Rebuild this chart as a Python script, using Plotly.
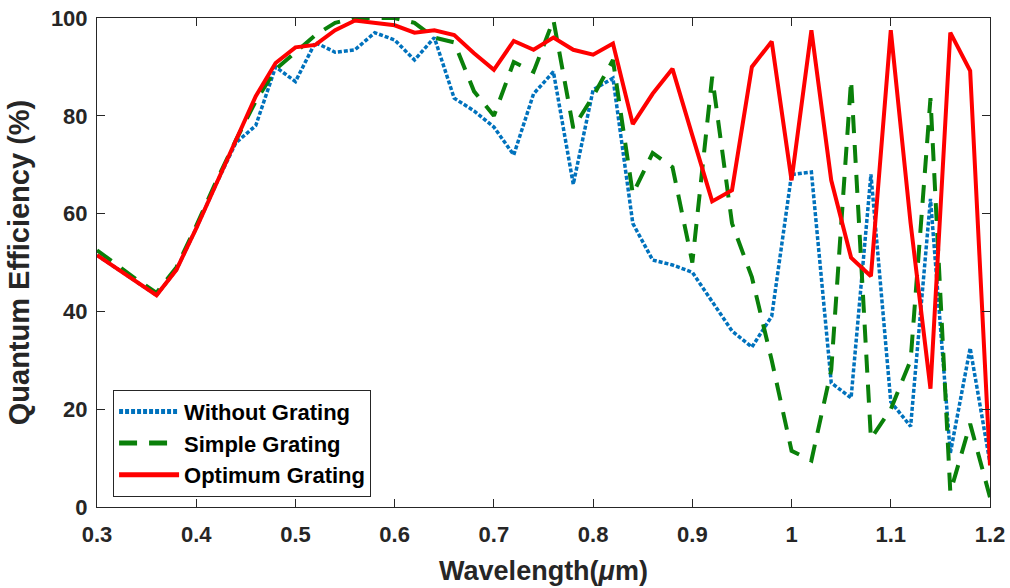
import plotly.graph_objects as go

wavelength = [0.30, 0.32, 0.34, 0.36, 0.38, 0.40, 0.42, 0.44, 0.46, 0.48,
              0.50, 0.52, 0.54, 0.56, 0.58, 0.60, 0.62, 0.64, 0.66, 0.68,
              0.70, 0.72, 0.74, 0.76, 0.78, 0.80, 0.82, 0.84, 0.86, 0.88,
              0.90, 0.92, 0.94, 0.96, 0.98, 1.00, 1.02, 1.04, 1.06, 1.08,
              1.10, 1.12, 1.14, 1.16, 1.18, 1.20]

without_grating = [51.5, 48.8, 46, 43.3, 48.5, 57, 66, 74.5, 78, 90,
                   87, 95, 93, 93.5, 97, 95.5, 91.4, 96, 83.6, 81,
                   77.7, 72, 84.5, 89, 66, 85.3, 87.7, 58, 50.5, 49.5,
                   48, 42, 36, 32.7, 39, 68, 68.5, 25.4, 22.3, 68,
                   21.5, 16.5, 63, 11, 32.5, 9]

simple_grating = [52.5, 49.5, 46.5, 43.8, 49, 57.5, 66.5, 75, 83, 89.5,
                  93, 96.5, 99, 100, 100, 100, 99, 96, 95, 85,
                  80, 91, 89, 99.6, 77.5, 84, 91.4, 64, 72.4, 69.5,
                  50, 88, 58, 47, 30, 11.5, 9.5, 28, 87.3, 14,
                  20, 30, 83.6, 3, 17, 2]

optimum_grating = [51.5, 48.8, 46, 43.3, 48.5, 57, 66, 75, 84, 90.8,
                   94, 94.5, 97.5, 99.5, 99, 98.5, 97, 97.5, 96.5, 92.8,
                   89.4, 95.3, 93.5, 96, 93.5, 92.5, 94.8, 78.3, 84.5, 89.6,
                   76, 62.5, 64.8, 90, 95.2, 66.8, 97.5, 66.8, 51, 47.2,
                   97.5, 58, 24.2, 97, 89.2, 8.5]

x_ticks = [0.3, 0.4, 0.5, 0.6, 0.7, 0.8, 0.9, 1.0, 1.1, 1.2]
x_tick_labels = ["0.3", "0.4", "0.5", "0.6", "0.7", "0.8", "0.9", "1", "1.1", "1.2"]
y_ticks = [0, 20, 40, 60, 80, 100]

FONT = "Liberation Sans, Arial, Helvetica, sans-serif"
AX = "#262626"

fig = go.Figure()
fig.add_trace(go.Scatter(x=wavelength, y=without_grating, mode="lines",
                         name="<b>Without Grating</b>",
                         line=dict(color="#0072BD", width=3.5, dash="4px,2px")))
fig.add_trace(go.Scatter(x=wavelength, y=simple_grating, mode="lines",
                         name="<b>Simple Grating</b>",
                         line=dict(color="#0A800A", width=4, dash="18px,12px")))
fig.add_trace(go.Scatter(x=wavelength, y=optimum_grating, mode="lines",
                         name="<b>Optimum Grating</b>",
                         line=dict(color="#FF0000", width=4)))

axis_common = dict(showgrid=False, zeroline=False, showline=True, linecolor=AX,
                   linewidth=1, mirror="ticks", ticks="inside", ticklen=8,
                   tickcolor=AX, tickwidth=1,
                   tickfont=dict(family=FONT, size=22, color=AX))

fig.update_xaxes(range=[0.3, 1.2], tickvals=x_ticks, ticktext=["<b>%s</b>" % t for t in x_tick_labels],
                 ticklabelstandoff=8,
                 title=dict(text="<b>Wavelength(<i>μ</i>m)</b>",
                            font=dict(family=FONT, size=27, color=AX), standoff=14),
                 **axis_common)
fig.update_yaxes(range=[0, 100], tickvals=y_ticks, ticktext=["<b>%d</b>" % t for t in y_ticks],
                 ticklabelstandoff=4,
                 title=dict(text="<b>Quantum Efficiency (%)</b>",
                            font=dict(family=FONT, size=29, color=AX), standoff=12),
                 **axis_common)

fig.update_layout(
    width=1010, height=588,
    margin=dict(l=97, r=20, t=18, b=81, autoexpand=False),
    paper_bgcolor="white", plot_bgcolor="white",
    showlegend=True,
    legend=dict(x=0.018, y=0.240, xanchor="left", yanchor="top",
                bgcolor="white", bordercolor=AX, borderwidth=1,
                font=dict(family=FONT, size=22, color="black"),
                itemwidth=60, tracegroupgap=0,
                itemsizing="constant"),
)

fig.write_html("out.html")
